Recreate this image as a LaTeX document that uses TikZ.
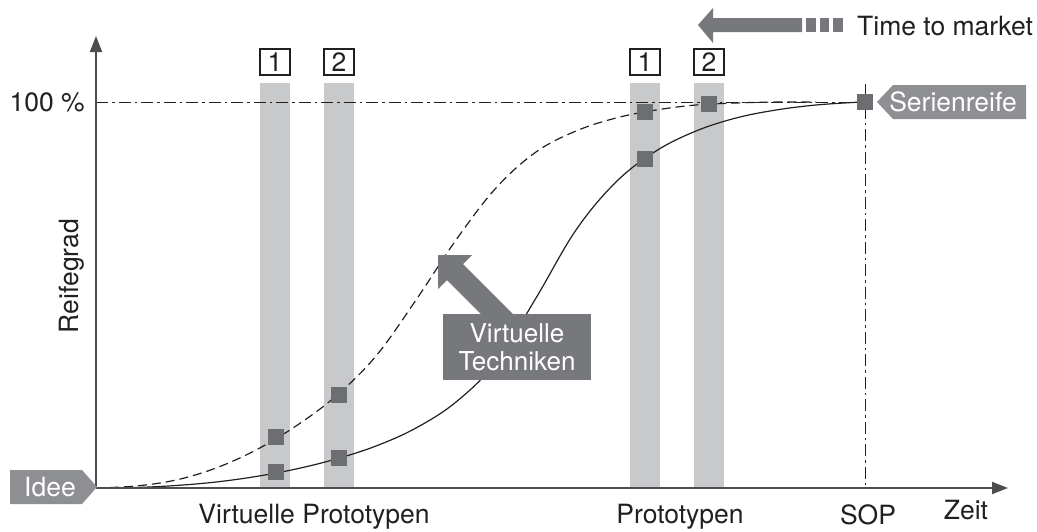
\documentclass[tikz,border=0pt]{standalone}
\usepackage{fontspec}
\setmainfont{TeX Gyre Heros}
\usetikzlibrary{arrows.meta}
\definecolor{bargray}{HTML}{C8C9CB}
\definecolor{markgray}{HTML}{6D6E71}
\definecolor{arrowgray}{HTML}{77787B}
\definecolor{taggray}{HTML}{8E8F92}
\definecolor{axisgray}{HTML}{4D4D4F}
\definecolor{ink}{HTML}{231F20}
\begin{document}
\begin{tikzpicture}[x=1pt,y=-1pt,
  font=\fontsize{26.5}{29}\selectfont,
  every node/.style={text=ink},
  bar/.style={fill=bargray, draw=none, minimum width=30pt, minimum height=405pt, inner sep=0pt, anchor=north west},
  numbox/.style={draw=ink, line width=1.1pt, fill=white, minimum width=30pt, minimum height=26pt, inner sep=0pt},
  marker/.style={fill=markgray, draw=none, minimum size=16pt, inner sep=0pt},
  dashdot/.style={ink, line width=0.9pt, dash pattern=on 12pt off 4pt on 2.5pt off 4pt},
  curve/.style={ink, line width=1.2pt},
  axis/.style={axisgray, line width=1.8pt, -{Triangle[length=16pt,width=12pt]}},
  label/.style={inner sep=0pt},
  tagtext/.style={text=white, inner sep=0pt},
]
\useasboundingbox (0,0) rectangle (1037,531);

% prototype bars
\node[bar] (v1) at (260,83) {};
\node[bar] (v2) at (324,83) {};
\node[bar] (p1) at (630,83) {};
\node[bar] (p2) at (694,83) {};

% loop numbers
\node[numbox] (nv1) at (275,62) {1};
\node[numbox] (nv2) at (339,62) {2};
\node[numbox] (np1) at (645,62) {1};
\node[numbox] (np2) at (709,62) {2};

% reference lines: 100 % and start of production
\coordinate (O) at (96,488);
\coordinate (full) at (96,102);
\coordinate (sopbase) at (865,488);
\coordinate (soptop) at (865,84);
\coordinate (sopmark) at (865,102);
\draw[dashdot] (full) -- (sopmark);
\draw[dashdot] (soptop) -- (sopbase);

% maturity curves
\draw[curve] plot[smooth, tension=0.6] coordinates {
  (96,488) (136,487.5) (176,485.5) (216,482) (256,476.5) (296,469) (336,459)
  (376,446) (416,428) (456,402) (496,362) (536,298) (576,230) (616,182)
  (656,151) (696,131) (736,118) (776,110) (816,105) (856,102.3) (865,102)};
\draw[curve, dash pattern=on 9pt off 5pt] plot[smooth, tension=0.6] coordinates {
  (96,488) (136,486) (176,480) (216,468) (256,450) (296,426) (336,396)
  (376,356) (416,300) (456,240) (496,188) (536,152) (576,131) (616,118)
  (656,110) (696,105) (736,103) (776,102) (816,102)};

% measurement points
\node[marker] (mv1a) at (276,437) {};
\node[marker] (mv1b) at (276,472) {};
\node[marker] (mv2a) at (339,395) {};
\node[marker] (mv2b) at (339,458) {};
\node[marker] (mp1a) at (645,112) {};
\node[marker] (mp1b) at (645,159) {};
\node[marker] (mp2a) at (709,104) {};
\node[marker] (sop) at (sopmark) {};

% shift towards virtual techniques
\fill[arrowgray] (438,255) -- (472,255) -- (463,264) -- (519,320) -- (487,320)
  -- (447,280) -- (438,289) -- cycle;
\node[fill=arrowgray, minimum width=148pt, minimum height=66pt, inner sep=0pt,
  text=white, align=center, font=\fontsize{26}{28}\selectfont] (vt) at (517,347)
  {Virtuelle\\Techniken};

% axes
\coordinate (yend) at (96,36);
\coordinate (xend) at (1008,488);
\draw[axis] (O) -- (yend);
\draw[axis] (O) -- (xend);

% axis labels
\node[label, anchor=base east] (l100) at (85,111) {100 \%};
\node[label, rotate=90] (lreif) at (72,276) {Reifegrad};
\node[label, anchor=base] (lvp) at (314,523) {Virtuelle Prototypen};
\node[label, anchor=base] (lp) at (680,523) {Prototypen};
\node[label, anchor=base] (lsop) at (868,524) {SOP};
\node[label, anchor=base] (lzeit) at (966,519) {Zeit};

% start and end tags
\fill[taggray] (10,470) -- (82,470) -- (97,487) -- (82,504) -- (10,504) -- cycle;
\node[tagtext] (idee) at (50,487) {Idee};
\fill[taggray] (877,102) -- (893,85) -- (1026,85) -- (1026,119) -- (893,119) -- cycle;
\node[tagtext] (serie) at (953,102) {Serienreife};

% time to market
\fill[arrowgray] (698,25) -- (713,8) -- (713,18) -- (802,18) -- (802,32)
  -- (713,32) -- (713,43) -- cycle;
\fill[arrowgray] (806,18) rectangle (816,32);
\fill[arrowgray] (820,18) rectangle (829,32);
\fill[arrowgray] (833,18) rectangle (843,32);
\node[label, anchor=base west] (ttm) at (857,35) {Time to market};
\end{tikzpicture}
\end{document}
